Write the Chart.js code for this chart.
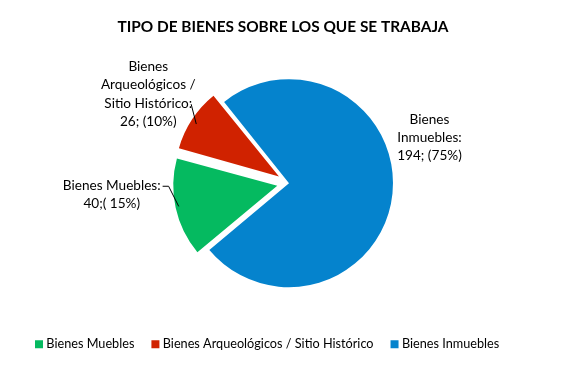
<!DOCTYPE html>
<html>
<head>
<meta charset="utf-8">
<script src="https://cdn.jsdelivr.net/npm/chart.js@4"></script>
<style>
  html, body { margin: 0; padding: 0; background: #fff; }
  #wrap { width: 564px; height: 370px; position: relative; }
</style>
</head>
<body>
<div id="wrap"><canvas id="c" width="564" height="370"></canvas></div>
<script>
const categories = ['Bienes Muebles', 'Bienes Arqueológicos / Sitio Histórico', 'Bienes Inmuebles'];
const values = [40, 26, 194];
const percentLabels = ['40;( 15%)', '26; (10%)', '194; (75%)'];
const labelNames = [['Bienes Muebles:'], ['Bienes', 'Arqueológicos /', 'Sitio Histórico:'], ['Bienes', 'Inmuebles:']];
const colors = ['#05BA60', '#D02200', '#0583CD'];
const explode = [48, 48, 0];
const titleText = 'TIPO DE BIENES SOBRE LOS QUE SE TRABAJA';

// label block placement relative to the arc's outer mid point
const labelPlacement = [
  { dx: -66, dy: -13, leader: 'green' },
  { dx: -48, dy: -28, leader: 'red' },
  { dx: 37, dy: -56, leader: null }
];

const FONT = 'Lato, "Open Sans", sans-serif';

const radiusFix = {
  id: 'radiusFix',
  afterDatasetUpdate(chart, args) {
    const meta = chart.getDatasetMeta(args.index);
    meta.data.forEach((arc) => {
      const off = (arc.options.offset || 0) / 4;
      const circ = arc.endAngle - arc.startAngle;
      const fix = 1 - Math.sin(Math.min(Math.PI, circ));
      arc.outerRadius = arc.outerRadius - off * fix;
    });
  }
};

const titleShift = {
  id: 'titleShift',
  afterLayout(chart) {
    if (chart.titleBlock) {
      chart.titleBlock.left -= 6;
      chart.titleBlock.right -= 6;
    }
  }
};

const dataLabels = {
  id: 'dataLabels',
  afterDatasetsDraw(chart) {
    const ctx = chart.ctx;
    const meta = chart.getDatasetMeta(0);
    const lh = 18.3;
    ctx.save();
    ctx.font = '13.6px ' + FONT;
    ctx.fillStyle = '#000';
    ctx.textAlign = 'center';
    ctx.textBaseline = 'middle';
    meta.data.forEach((arc, i) => {
      const off = (arc.options.offset || 0) / 4;
      const mid = (arc.startAngle + arc.endAngle) / 2;
      const r = arc.outerRadius + off;
      const ax = arc.x + Math.cos(mid) * r;
      const ay = arc.y + Math.sin(mid) * r;
      const p = labelPlacement[i];
      const lines = labelNames[i].concat([percentLabels[i]]);
      const cx = ax + p.dx;
      const cy = ay + p.dy;
      const y0 = cy - (lines.length - 1) * lh / 2;
      lines.forEach((t, k) => ctx.fillText(t, cx, y0 + k * lh));
      if (p.leader) {
        ctx.strokeStyle = '#000';
        ctx.lineWidth = 1;
        ctx.beginPath();
        if (p.leader === 'green') {
          const w = ctx.measureText(lines[0]).width;
          const sx = cx + w / 2 + 2;
          const sy = y0 + 1;
          ctx.moveTo(sx, sy);
          ctx.lineTo(sx + 6, sy);
          ctx.lineTo(ax + 1, ay - 1);
        } else {
          const w = ctx.measureText(lines[2]).width;
          const sx = cx + w / 2 - 1;
          const sy = y0 + 2 * lh + 1;
          ctx.moveTo(sx, sy);
          ctx.lineTo(ax, ay + 2);
        }
        ctx.stroke();
      }
    });
    ctx.restore();
  }
};

new Chart(document.getElementById('c'), {
  type: 'pie',
  data: {
    labels: categories,
    datasets: [{
      data: values,
      backgroundColor: colors,
      borderWidth: 0,
      offset: explode,
      hoverOffset: 0
    }]
  },
  options: {
    responsive: false,
    animation: false,
    rotation: 230,
    radius: 104,
    layout: { padding: { top: 0, left: 18, right: 4, bottom: 9.5 } },
    plugins: {
      title: {
        display: true,
        text: titleText,
        color: '#000',
        font: { family: FONT, size: 15.4, weight: 'bold' },
        padding: { top: 17.75, bottom: 12.25 }
      },
      legend: {
        position: 'bottom',
        align: 'start',
        labels: {
          boxWidth: 2,
          boxHeight: 2,
          padding: 20,
          color: '#000',
          font: { family: FONT, size: 12.7 },
          generateLabels(chart) {
            const items = Chart.overrides.pie.plugins.legend.labels.generateLabels(chart);
            items.forEach((it) => {
              it.lineWidth = 6;
              it.strokeStyle = it.fillStyle;
              it.lineJoin = 'miter';
            });
            return items;
          }
        }
      },
      tooltip: { enabled: false }
    }
  },
  plugins: [radiusFix, titleShift, dataLabels]
});
</script>
</body>
</html>
